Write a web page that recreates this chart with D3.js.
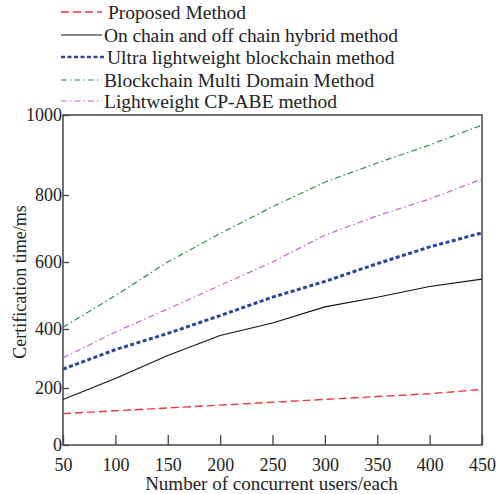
<!DOCTYPE html>
<html>
<head>
<meta charset="utf-8">
<script src="https://cdn.jsdelivr.net/npm/d3@7"></script>
<style>
  body { margin: 0; background: #fff; }
  svg { display: block; }
  text { font-family: "Liberation Serif", "Times New Roman", serif; fill: #222; }
</style>
</head>
<body>
<svg width="496" height="494"></svg>
<script>
// x values (concurrent users)
var users = [50, 100, 150, 200, 250, 300, 350, 400, 450];

var proposed   = [110, 120, 130, 140, 150, 160, 170, 180, 195];
var hybrid     = [160, 232, 310, 378, 418, 466, 495, 527, 549];
var ultraLight = [264, 330, 385, 440, 495, 542, 595, 645, 687];
var multiDom   = [405, 500, 600, 685, 765, 832, 880, 925, 975];
var cpAbe      = [302, 390, 460, 530, 600, 680, 738, 788, 840];

var xTicks = [50, 100, 150, 200, 250, 300, 350, 400, 450];
var yTicks = [0, 200, 400, 600, 800, 1000];

var seriesNames = [
  "Proposed Method",
  "On chain and off chain hybrid method",
  "Ultra lightweight blockchain method",
  "Blockchain Multi Domain Method",
  "Lightweight CP-ABE method"
];

var series = [
  {name: seriesNames[0], values: proposed,   color: "#e8393c", width: 1.4, dash: "8,4"},
  {name: seriesNames[1], values: hybrid,     color: "#111",    width: 1.1, dash: null},
  {name: seriesNames[2], values: ultraLight, color: "#2b44a0", width: 3,   dash: "4,2.5"},
  {name: seriesNames[3], values: multiDom,   color: "#2e8b4f", width: 1.2, dash: "6,3,1.5,3"},
  {name: seriesNames[4], values: cpAbe,      color: "#c662c6", width: 1.2, dash: "6,3,1.5,3"}
];

var svg = d3.select("svg");

var plotL = 63, plotR = 482, plotT = 115, plotB = 445;

var x = d3.scaleLinear().domain([50, 450]).range([plotL, plotR]);
// the printed axis is not evenly spaced, so map each tick to where it sits
var y = d3.scaleLinear().domain(yTicks).range([plotB, 388, 329, 262, 195, plotT]);

var line = d3.line()
    .x(function(d, i) { return x(users[i]); })
    .y(function(d) { return y(d); });

// x axis, ticks pointing inward
var xAxis = d3.axisBottom(x).tickValues(xTicks).tickFormat(d3.format("d"))
    .tickSizeInner(-10).tickSizeOuter(0).tickPadding(13);
var gx = svg.append("g").attr("transform", "translate(0," + plotB + ")").call(xAxis);
gx.select(".domain").remove();
gx.selectAll("line").attr("stroke", "#444").attr("stroke-width", 1.3);
gx.selectAll("text").style("font-size", "18px").attr("fill", "#222");

// y axis, ticks pointing inward
var yAxis = d3.axisLeft(y).tickValues(yTicks).tickFormat(d3.format("d"))
    .tickSizeInner(-6).tickSizeOuter(0).tickPadding(1);
var gy = svg.append("g").attr("transform", "translate(" + plotL + ",0)").call(yAxis);
gy.select(".domain").remove();
gy.selectAll("line").attr("stroke", "#444").attr("stroke-width", 1.3);
gy.selectAll("text").style("font-size", "18px").attr("fill", "#222");

// frame
svg.append("rect")
    .attr("x", plotL).attr("y", plotT)
    .attr("width", plotR - plotL).attr("height", plotB - plotT)
    .attr("fill", "none").attr("stroke", "#444").attr("stroke-width", 1.5);

// axis titles
svg.append("text")
    .attr("x", (plotL + plotR) / 2 - 1).attr("y", 490)
    .attr("text-anchor", "middle")
    .style("font-size", "19px")
    .text("Number of concurrent users/each");

svg.append("text")
    .attr("transform", "translate(26,282) rotate(-90)")
    .attr("text-anchor", "middle")
    .style("font-size", "18px")
    .text("Certification time/ms");

// lines
series.forEach(function(s) {
  svg.append("path")
      .datum(s.values)
      .attr("d", line)
      .attr("fill", "none")
      .attr("stroke", s.color)
      .attr("stroke-width", s.width)
      .attr("stroke-dasharray", s.dash);
});

// legend
var legendY = [12, 35, 57, 80, 101];
series.forEach(function(s, i) {
  var g = svg.append("g").attr("transform", "translate(0," + legendY[i] + ")");
  g.append("line")
      .attr("x1", 61).attr("x2", i == 2 ? 106 : 102)
      .attr("stroke", s.color)
      .attr("stroke-width", i == 2 ? 2.5 : s.width)
      .attr("stroke-dasharray", s.dash);
  var t = g.append("text")
      .attr("x", i == 0 ? 108 : (i == 2 ? 107 : 104))
      .attr("dy", "0.35em")
      .style("font-size", "19.5px")
      .text(s.name);
  // this entry is set a little wider in the original
  if (i == 1) t.attr("textLength", 294).attr("lengthAdjust", "spacing");
});
</script>
</body>
</html>
